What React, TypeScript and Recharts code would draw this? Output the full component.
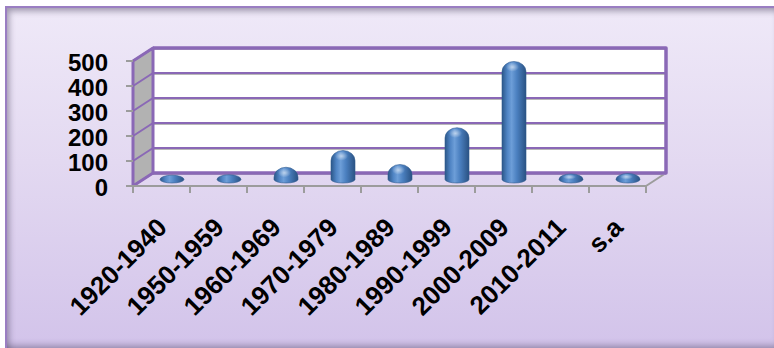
import React from 'react';
import { BarChart, Bar, XAxis, YAxis, CartesianGrid, ReferenceArea } from 'recharts';

// ---- data ----
const categories = ['1920-1940', '1950-1959', '1960-1969', '1970-1979', '1980-1989', '1990-1999', '2000-2009', '2010-2011', 's.a'];
const counts = [3, 5, 35, 102, 46, 193, 458, 8, 10];
const yTicks = [0, 100, 200, 300, 400, 500];

const data = categories.map((c, i) => ({ name: c, value: counts[i] }));

// ---- layout ----
const W = 774;
const H = 348;
const MARGIN = { top: 61, right: 128, bottom: 62, left: 73 };
const Y_AXIS_W = 60;
const X_AXIS_H = 100;
const PLOT_W = W - MARGIN.left - Y_AXIS_W - MARGIN.right;
const BAND = PLOT_W / categories.length;
const DX = 20;
const DY = -13;
const PURPLE = '#8a68b6';
const GRAY = '#9c9c9c';
const FONT = "'Liberation Sans', Arial, sans-serif";

const Walls = (p: any) => {
  const { x, y, width, height } = p;
  const x0 = x, x1 = x + width, y0 = y, y1 = y + height;
  return (
    <g>
      <defs>
        <linearGradient id="cyl" x1="0" y1="0" x2="1" y2="0">
          <stop offset="0%" stopColor="#2b5789" />
          <stop offset="22%" stopColor="#4f84c4" />
          <stop offset="40%" stopColor="#6d9ed8" />
          <stop offset="62%" stopColor="#4b80c0" />
          <stop offset="100%" stopColor="#2a5283" />
        </linearGradient>
        <radialGradient id="hl" cx="0.5" cy="0.5" r="0.5">
          <stop offset="0%" stopColor="#ffffff" stopOpacity={0.55} />
          <stop offset="100%" stopColor="#ffffff" stopOpacity={0} />
        </radialGradient>
      </defs>
      <rect x={x0 + DX} y={y0 + DY} width={width} height={height} fill="#ffffff" />
      <polygon
        points={`${x0},${y0} ${x0 + DX},${y0 + DY} ${x0 + DX},${y1 + DY} ${x0},${y1}`}
        fill="#b2b2b2"
      />
      <line x1={x1} y1={y1} x2={x1 + DX} y2={y1 + DY} stroke={GRAY} strokeWidth={2} />
    </g>
  );
};

const WallBorders = (p: any) => {
  const { x, y, width, height } = p;
  const x0 = x, x1 = x + width, y0 = y, y1 = y + height;
  return (
    <g>
      <polygon
        points={`${x0},${y0} ${x0 + DX},${y0 + DY} ${x0 + DX},${y1 + DY} ${x0},${y1}`}
        fill="none"
        stroke={PURPLE}
        strokeWidth={3}
        strokeLinejoin="round"
      />
      <polyline
        points={`${x0 + DX},${y0 + DY} ${x1 + DX},${y0 + DY} ${x1 + DX},${y1 + DY} ${x0 + DX},${y1 + DY}`}
        fill="none"
        stroke={PURPLE}
        strokeWidth={3.5}
        strokeLinejoin="round"
      />
    </g>
  );
};

const GridLine = (p: any) => {
  const { x1, y1, x2, y2 } = p;
  return (
    <g key={p.key}>
      <line x1={x1 + DX} y1={y1 + DY + 1.5} x2={x2 + DX} y2={y2 + DY + 1.5} stroke="#b8b8b8" strokeWidth={1} />
      <line x1={x1} y1={y1} x2={x1 + DX} y2={y1 + DY} stroke={PURPLE} strokeWidth={2} />
      <line x1={x1 + DX} y1={y1 + DY} x2={x2 + DX} y2={y2 + DY} stroke={PURPLE} strokeWidth={2} />
    </g>
  );
};

const Cylinder = (p: any) => {
  const { x, y, width, height } = p;
  if (x == null || y == null) return null;
  const rx = width / 2;
  const cx = x + rx + DX / 2;
  const yb = y + height + DY / 2;
  const yt = y + DY / 2;
  const ry = 3.5;
  const top = yt - ry;
  const r = Math.max(ry, Math.min(rx * 0.85, yb - top));
  const L = cx - rx;
  const R = cx + rx;
  const d = `M${L},${yb} L${L},${top + r} A${rx},${r} 0 0 1 ${R},${top + r} L${R},${yb} A${rx},${ry} 0 0 1 ${L},${yb} Z`;
  return (
    <g>
      <path d={d} fill="url(#cyl)" stroke="#2f5b8e" strokeWidth={0.6} />
      {r > 5 && (
        <ellipse cx={cx - 1.5} cy={top + r * 0.55} rx={rx * 0.55} ry={r * 0.45} fill="url(#hl)" />
      )}
    </g>
  );
};

const YTick = (p: any) => (
  <text x={p.x} y={p.y + 10} textAnchor="end" fontFamily={FONT} fontWeight="bold" fontSize={24} fill="#000">
    {p.payload.value}
  </text>
);

const XTick = (p: any) => {
  const { x, y, payload, index } = p;
  const bx = x - BAND / 2;
  const tx = x + 7;
  const ty = y + 43;
  return (
    <g>
      <line x1={bx} y1={y} x2={bx} y2={y + 7} stroke={GRAY} strokeWidth={2} />
      {index === categories.length - 1 && (
        <line x1={x + BAND / 2} y1={y} x2={x + BAND / 2} y2={y + 7} stroke={GRAY} strokeWidth={2} />
      )}
      <text
        x={tx}
        y={ty}
        transform={`rotate(-45 ${tx} ${ty})`}
        textAnchor="end"
        fontFamily={FONT}
        fontWeight="bold"
        fontSize={26}
        fill="#000"
      >
        {payload.value}
      </text>
    </g>
  );
};

export default function App() {
  return (
    <div style={{ position: 'absolute', left: 0, top: 0, width: W, height: H, overflow: 'hidden' }}>
      <div
        style={{
          position: 'absolute',
          left: 5,
          top: 6,
          width: W + 4,
          height: H - 4,
          boxSizing: 'border-box',
          borderTop: '2px solid #9a7ec2',
          borderLeft: '2px solid #9a7ec2',
          background: 'linear-gradient(180deg, #efe9f8 0%, #e3d9f1 45%, #d2c3ea 100%)',
          boxShadow:
            'inset 4px 5px 6px -2px rgba(60,50,80,0.45), inset -6px -6px 7px -2px rgba(60,50,80,0.45)',
        }}
      />
      <div style={{ position: 'absolute', left: 0, top: 0 }}>
        <BarChart width={W} height={H} data={data} margin={MARGIN}>
          <ReferenceArea y1={0} y2={500} shape={Walls} ifOverflow="visible" zIndex={-300} />
          <CartesianGrid vertical={false} horizontal={GridLine} zIndex={-200} />
          <ReferenceArea y1={0} y2={500} shape={WallBorders} ifOverflow="visible" zIndex={-150} />
          <XAxis
            dataKey="name"
            height={X_AXIS_H}
            interval={0}
            tickSize={0}
            tickMargin={0}
            tickLine={false}
            axisLine={{ stroke: GRAY, strokeWidth: 2 }}
            tick={XTick}
          />
          <YAxis
            width={Y_AXIS_W}
            domain={[0, 500]}
            ticks={yTicks}
            interval={0}
            tickSize={7}
            tickMargin={18}
            axisLine={false}
            tickLine={{ stroke: GRAY, strokeWidth: 2 }}
            tick={YTick}
          />
          <Bar dataKey="value" barSize={24} shape={Cylinder} isAnimationActive={false} />
        </BarChart>
      </div>
    </div>
  );
}
